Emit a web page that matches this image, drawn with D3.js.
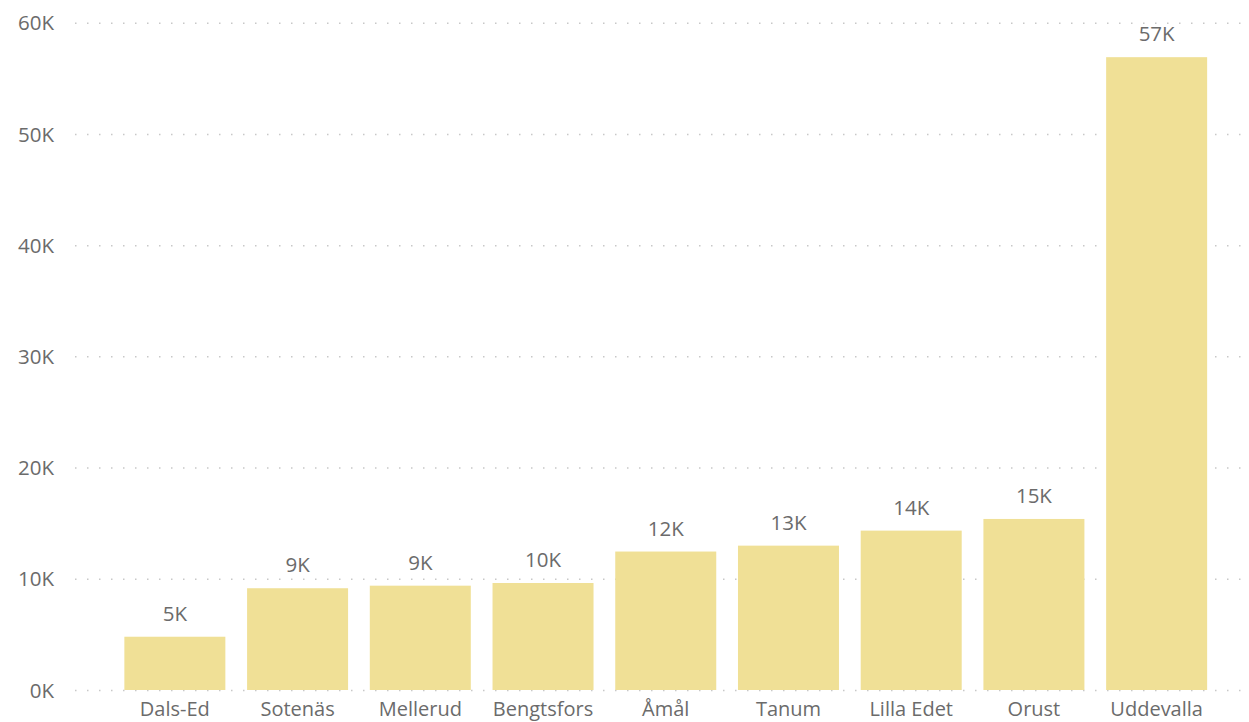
<!DOCTYPE html>
<html><head><meta charset="utf-8">
<script src="https://cdn.jsdelivr.net/npm/d3@7/dist/d3.min.js"></script>
<style>body{margin:0;background:#fff;overflow:hidden}text{font-family:"Open Sans","Noto Sans",sans-serif}</style>
</head><body><svg id="c" width="1249" height="722"></svg>
<script>
const categories = ["Dals-Ed","Sotenäs","Mellerud","Bengtsfors","Åmål","Tanum","Lilla Edet","Orust","Uddevalla"];
const values = [4790, 9150, 9380, 9620, 12450, 12980, 14330, 15380, 56900];
const yTicks = [0, 10000, 20000, 30000, 40000, 50000, 60000];
const yTickLabels = ["0K","10K","20K","30K","40K","50K","60K"];

const svg = d3.select("#c");
const y = d3.scaleLinear().domain([0, 60000]).range([690, 22.7]);
const x = d3.scaleBand().domain(categories).range([113.5, 1218]).paddingInner(0.177).paddingOuter(0.0885);

const fmt = v => Math.round(v/1000) + "K";
const fs = "20.5px", col = "#6b6b6b";

// gridlines
const grid = svg.append("g").attr("transform","translate(75,0)")
  .call(d3.axisLeft(y).tickValues(yTicks).tickSize(-1174).tickFormat(""));
grid.select(".domain").remove();
grid.selectAll(".tick line").attr("stroke","#c8c8c8").attr("stroke-width",1.5).attr("stroke-dasharray","1.5,10.5");

// y axis labels
const ya = svg.append("g").attr("transform","translate(54,0)")
  .call(d3.axisLeft(y).tickValues(yTicks).tickSize(0).tickPadding(0).tickFormat((d,i)=>yTickLabels[i]));
ya.select(".domain").remove();
ya.selectAll("text").attr("fill",col).style("font-size",fs).attr("dy","0.35em");

// bars
svg.append("g").selectAll("rect").data(categories).join("rect")
  .attr("x", d => x(d)).attr("width", x.bandwidth())
  .attr("y", (d,i) => y(values[i])).attr("height", (d,i) => y(0) - y(values[i]))
  .attr("fill","#F0E096");

// data labels
svg.append("g").selectAll("text").data(categories).join("text")
  .attr("x", d => x(d) + x.bandwidth()/2).attr("y", (d,i) => y(values[i]) - 16)
  .attr("text-anchor","middle").attr("fill",col).style("font-size",fs)
  .text((d,i) => fmt(values[i]));

// x axis labels
const xa = svg.append("g").attr("transform","translate(0,690)")
  .call(d3.axisBottom(x).tickSize(0).tickPadding(0));
xa.select(".domain").remove();
xa.selectAll("text").attr("fill",col).style("font-size","20px").attr("dy","0").attr("y",25.5);
</script></body></html>
